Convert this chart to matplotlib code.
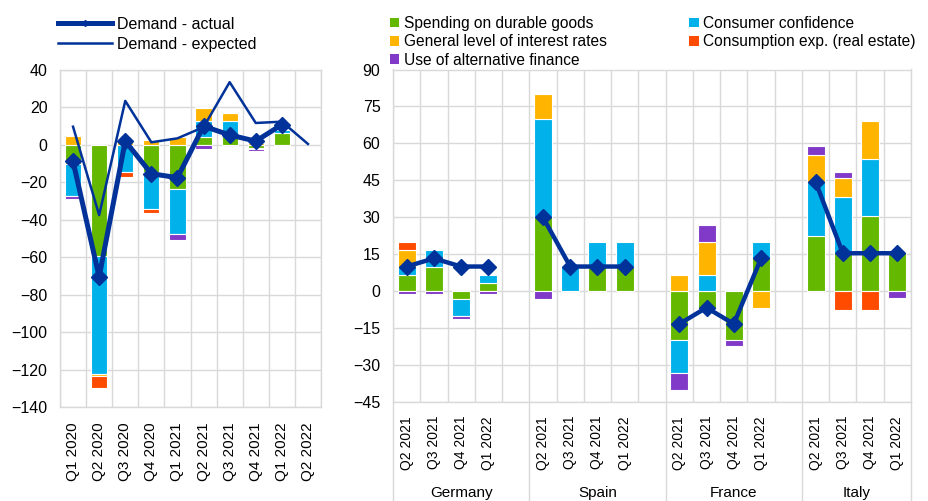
import numpy as np
import matplotlib
matplotlib.use("Agg")
import matplotlib.pyplot as plt
from matplotlib.lines import Line2D
from matplotlib.patches import Patch
from matplotlib.transforms import blended_transform_factory

plt.rcParams['font.family'] = ['Liberation Sans', 'DejaVu Sans']
plt.rcParams['font.size'] = 11

# ---- colours ----
C_DURABLE = '#65b800'
C_CONFID = '#00b1ea'
C_INTEREST = '#ffb400'
C_REALEST = '#ff4b00'
C_ALTFIN = '#8139c7'
C_LINE = '#003299'
C_GRID = '#d9d9d9'

# ---- euro area panel ----
ea_quarters = ["Q1 2020", "Q2 2020", "Q3 2020", "Q4 2020", "Q1 2021",
               "Q2 2021", "Q3 2021", "Q4 2021", "Q1 2022", "Q2 2022"]
ea_durable = [-10.0, -59.3, 0.0, -14.5, -23.4, 4.0, 5.0, -1.6, 6.4, 0.0]
ea_confidence = [-17.4, -63.2, -14.5, -20.0, -24.0, 8.5, 7.6, 0.0, 1.6, 0.0]
ea_interest = [4.6, -1.0, 2.3, 2.8, 4.0, 7.0, 4.2, 1.0, 0.0, 0.0]
ea_realestate = [0.0, -6.2, -2.7, -2.1, 0.0, 0.5, 0.0, -0.5, 0.0, 0.0]
ea_altfinance = [-1.4, 0.0, 0.0, 0.0, -3.2, -2.0, 0.5, -1.2, -0.5, 0.0]
ea_actual = [-8.8, -70.5, 2.0, -15.4, -17.5, 10.0, 5.3, 2.0, 10.8, np.nan]
ea_expected = [9.7, -37.5, 23.5, 1.4, 3.5, 9.5, 33.5, 11.7, 12.4, 0.5]

# ---- country panel ----
countries = ["Germany", "Spain", "France", "Italy"]
cty_quarters = ["Q2 2021", "Q3 2021", "Q4 2021", "Q1 2022"]
cty_durable = [6.7, 10.0, -3.3, 3.3,
               30.0, 0.0, 10.0, 10.0,
               -20.0, -6.7, -20.0, 13.3,
               22.2, 15.4, 30.7, 15.4]
cty_confidence = [3.3, 6.7, -6.7, 3.3,
                  40.0, 10.0, 10.0, 10.0,
                  -13.3, 6.7, 0.0, 6.7,
                  22.2, 23.0, 23.0, 0.0]
cty_interest = [6.7, 0.0, 0.0, 0.0,
                10.0, 0.0, 0.0, 0.0,
                6.7, 13.3, 0.0, -6.7,
                11.0, 7.7, 15.4, 0.0]
cty_realestate = [3.3, 0.0, 0.0, 0.0,
                  0.0, 0.0, 0.0, 0.0,
                  0.0, 0.0, 0.0, 0.0,
                  0.0, -7.7, -7.7, 0.0]
cty_altfinance = [-1.0, -1.0, -1.2, -1.0,
                  -3.3, 0.0, 0.0, 0.0,
                  -6.7, 6.7, -2.2, 0.0,
                  3.7, 2.4, 0.0, -2.7]
cty_actual = [10.0, 13.3, 10.0, 10.0,
              30.0, 10.0, 10.0, 10.0,
              -13.3, -6.7, -13.3, 13.3,
              44.4, 15.4, 15.4, 15.4]

labels = ["Spending on durable goods", "Consumer confidence",
          "General level of interest rates", "Consumption exp. (real estate)",
          "Use of alternative finance"]
colors = [C_DURABLE, C_CONFID, C_INTEREST, C_REALEST, C_ALTFIN]


def stacked(ax, x, series, width):
    x = np.asarray(x, dtype=float)
    pos = np.zeros(len(x))
    neg = np.zeros(len(x))
    for vals, col in zip(series, colors):
        v = np.asarray(vals, dtype=float)
        base = np.where(v >= 0, pos, neg)
        m = v != 0
        ax.bar(x[m], v[m], bottom=base[m], width=width, color=col,
               edgecolor='white', linewidth=0.8, zorder=2)
        pos += np.clip(v, 0, None)
        neg += np.clip(v, None, 0)


def style(ax, n, xpad, xsize):
    ax.set_xlim(-0.5, n - 0.5)
    ax.set_xticks(np.arange(-0.5, n), minor=True)
    ax.grid(True, which='minor', axis='x', color=C_GRID, lw=1, zorder=0)
    ax.grid(True, which='major', axis='y', color=C_GRID, lw=1, zorder=0)
    ax.set_axisbelow(True)
    for s in ax.spines.values():
        s.set_color(C_GRID)
        s.set_linewidth(1)
    ax.tick_params(which='both', length=0)
    ax.tick_params(axis='y', pad=9, labelsize=11.5)
    ax.tick_params(axis='x', pad=xpad, labelsize=xsize)


fig = plt.figure(figsize=(9.29, 5.01), dpi=100)

# ---- left: euro area ----
axl = fig.add_axes([60 / 929, 1 - 407 / 501, 261 / 929, 337 / 501])
xl = np.arange(len(ea_quarters))
stacked(axl, xl, [ea_durable, ea_confidence, ea_interest, ea_realestate,
                  ea_altfinance], 0.62)
axl.plot(xl, ea_expected, color=C_LINE, lw=1.8, zorder=3)
axl.plot(xl, ea_actual, color=C_LINE, lw=3.6, marker='D', ms=8, zorder=4)
axl.set_ylim(-140, 40)
axl.set_yticks(np.arange(-140, 41, 20))
style(axl, len(ea_quarters), 11, 11)
axl.set_xticks(xl)
axl.set_xticklabels(ea_quarters, rotation=90)

fig.legend(handles=[Line2D([], [], color=C_LINE, lw=3.6, marker='D', ms=3),
                    Line2D([], [], color=C_LINE, lw=1.8)],
           labels=["Demand - actual", "Demand - expected"],
           loc='upper left', bbox_to_anchor=(58 / 929, 1 - 17 / 501),
           frameon=False, borderpad=0, borderaxespad=0, handlelength=3.4,
           handletextpad=0.3, labelspacing=0.3, fontsize=11.5)

# ---- right: countries ----
axr = fig.add_axes([393 / 929, 1 - 402 / 501, 518 / 929, 332.5 / 501])
n_slots = 5 * len(countries) - 1
xr = np.array([5 * g + k for g in range(len(countries))
               for k in range(len(cty_quarters))])
stacked(axr, xr, [cty_durable, cty_confidence, cty_interest, cty_realestate,
                  cty_altfinance], 0.66)
act = np.asarray(cty_actual)
for g in range(len(countries)):
    sl = slice(4 * g, 4 * g + 4)
    axr.plot(xr[sl], act[sl], color=C_LINE, lw=3.2, marker='D', ms=8,
             zorder=4)
axr.set_ylim(-45, 90)
axr.set_yticks(np.arange(-45, 91, 15))
style(axr, n_slots, 10, 10)
axr.set_xticks(xr)
axr.set_xticklabels(cty_quarters * len(countries), rotation=90)

tr = blended_transform_factory(axr.transData, axr.transAxes)
for b in [-0.5, 4.5, 9.5, 14.5, n_slots - 0.5]:
    axr.plot([b, b], [0, -0.31], transform=tr, color=C_GRID, lw=1,
             clip_on=False)
for g, name in enumerate(countries):
    lo = 5 * g - 0.5
    hi = min(5 * g + 4.5, n_slots - 0.5)
    axr.text((lo + hi) / 2, -0.274, name, transform=tr, ha='center',
             va='center', fontsize=11)

handles = [Patch(facecolor=c, edgecolor='none') for c in colors]
order = [0, 2, 4, 1, 3]
fig.legend(handles=[handles[i] for i in order],
           labels=[labels[i] for i in order], ncol=2,
           loc='upper left', bbox_to_anchor=(390 / 929, 1 - 16 / 501),
           frameon=False, borderpad=0, borderaxespad=0, handlelength=0.6,
           handleheight=0.6, handletextpad=0.3, labelspacing=0.22,
           columnspacing=5.3, fontsize=11.2)

fig.savefig("out.png", dpi=100)
